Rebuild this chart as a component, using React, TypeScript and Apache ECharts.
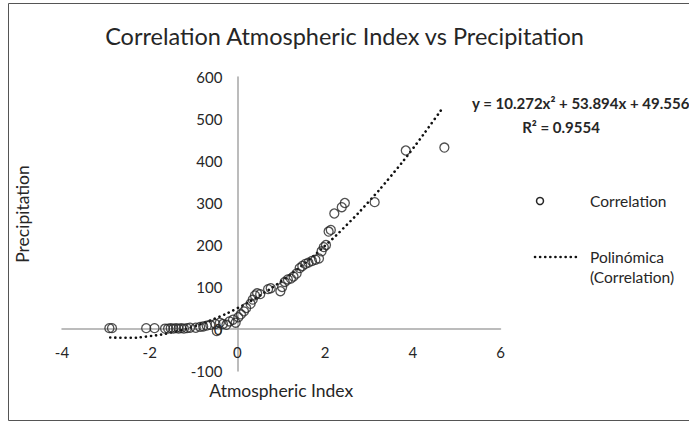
import React, { useEffect, useRef } from "react";
import * as echarts from "echarts";

const pointX = [-2.92, -2.86, -2.08, -1.89, -1.65, -1.58, -1.52, -1.46, -1.4, -1.34, -1.28, -1.22, -1.15, -1.08, -0.95, -0.85, -0.78, -0.7, -0.62, -0.5, -0.47, -0.4, -0.33, -0.25, -0.18, -0.1, -0.04, 0.02, 0.08, 0.15, 0.2, 0.3, 0.35, 0.4, 0.45, 0.52, 0.7, 0.76, 0.98, 1.02, 1.08, 1.15, 1.22, 1.28, 1.35, 1.42, 1.48, 1.55, 1.62, 1.7, 1.78, 1.86, 1.92, 1.97, 2.02, 2.08, 2.13, 2.21, 2.38, 2.45, 3.13, 3.84, 4.72];
const pointY = [2, 2, 2, 2, 1, 1, 2, 1, 2, 1, 2, 1, 2, 3, 3, 5, 6, 8, 10, 12, -5, 15, 12, 10, 18, 22, 15, 28, 35, 42, 50, 60, 70, 80, 85, 83, 95, 97, 90, 100, 112, 118, 120, 125, 132, 145, 150, 155, 158, 162, 165, 168, 185, 195, 200, 232, 236, 275, 290, 300, 302, 425, 432];

const trendX = [-2.9, -2.5, -2, -1.5, -1, -0.5, 0, 0.5, 1, 1.5, 2, 2.5, 3, 3.5, 4, 4.5, 4.65];
const trendY = [-20.3, -21, -17.1, -8.1, 6, 25.2, 49.6, 79.1, 113.7, 153.5, 198.5, 248.5, 303.7, 364, 429.5, 500.1, 522];

const xTicks = { min: -4, max: 6, interval: 2 };
const yTicks = { min: -100, max: 600, interval: 100 };

const titleText = "Correlation Atmospheric Index vs Precipitation";
const equationText = "y = 10.272x\u00b2 + 53.894x + 49.556";
const r2Text = "R\u00b2 = 0.9554";
const legendNames = ["Correlation", "Polinómica", "(Correlation)"];

const FONT = "Lato, 'Open Sans', sans-serif";
const GRID_LEFT = 62;
const GRID_RIGHT = 188.5;
const GRID_TOP = 77;
const GRID_BOTTOM = 52;
const GRID_WIDTH = 689 - GRID_LEFT - GRID_RIGHT;
const GRID_HEIGHT = 423 - GRID_TOP - GRID_BOTTOM;

export default function App() {
  const ref = useRef<HTMLDivElement>(null);
  useEffect(() => {
    if (!ref.current) return;
    const chart = echarts.init(ref.current, undefined, { renderer: "svg" });
    const scatter = pointX.map((x, i) => [x, pointY[i]]);
    const trend = trendX.map((x, i) => [x, trendY[i]]);
    // move the axes so that they cross at (0, 0)
    const yOffset = -((0 - xTicks.min) / (xTicks.max - xTicks.min)) * GRID_WIDTH;
    const xOffset = -((0 - yTicks.min) / (yTicks.max - yTicks.min)) * GRID_HEIGHT;
    chart.setOption({
      animation: false,
      backgroundColor: "#ffffff",
      textStyle: { fontFamily: FONT },
      title: {
        text: titleText,
        left: "center",
        top: 19,
        textStyle: { fontFamily: FONT, fontSize: 23.5, fontWeight: "normal", color: "#262626" },
      },
      grid: { left: GRID_LEFT, right: GRID_RIGHT, top: GRID_TOP, bottom: GRID_BOTTOM, containLabel: false, outerBoundsMode: "none" },
      xAxis: {
        type: "value",
        min: xTicks.min,
        max: xTicks.max,
        interval: xTicks.interval,
        position: "bottom",
        offset: xOffset,
        axisLine: { show: true, onZero: false, lineStyle: { color: "#a6a6a6", width: 1.5 } },
        axisTick: { show: false },
        splitLine: { show: false },
        axisLabel: { margin: 15, fontSize: 15, color: "#262626", fontFamily: FONT },
        name: "Atmospheric Index",
        nameLocation: "middle",
        nameGap: 52,
        nameTextStyle: { fontSize: 17.5, color: "#262626", fontFamily: FONT },
      },
      yAxis: {
        type: "value",
        min: yTicks.min,
        max: yTicks.max,
        interval: yTicks.interval,
        position: "left",
        offset: yOffset,
        axisLine: { show: true, onZero: false, lineStyle: { color: "#a6a6a6", width: 1.5 } },
        axisTick: { show: false },
        splitLine: { show: false },
        axisLabel: { margin: 15, fontSize: 15, color: "#262626", fontFamily: FONT },
      },
      series: [
        {
          name: "Correlation",
          type: "scatter",
          data: scatter,
          symbol: "circle",
          symbolSize: 9,
          itemStyle: { color: "rgba(255,255,255,0)", borderColor: "#262626", borderWidth: 1.3 },
          z: 3,
        },
        {
          name: "Polinómica (Correlation)",
          type: "line",
          data: trend,
          smooth: true,
          showSymbol: false,
          lineStyle: { color: "#111", width: 2.6, type: [0.1, 5], cap: "round" },
          z: 2,
        },
      ],
      graphic: [
        {
          type: "rect",
          shape: { x: 8.5, y: 3.5, width: 700, height: 417 },
          style: { fill: "none", stroke: "#555", lineWidth: 1 },
          silent: true,
        },
        {
          type: "text",
          x: 22,
          y: 214,
          rotation: Math.PI / 2,
          style: { text: "Precipitation", fontSize: 17.5, fontFamily: FONT, fill: "#262626", align: "center", verticalAlign: "middle" },
        },
        {
          type: "text",
          x: 472,
          y: 103,
          style: { text: equationText, fontSize: 15, fontFamily: FONT, fontWeight: "bold", fill: "#262626", align: "left", verticalAlign: "middle" },
        },
        {
          type: "text",
          x: 561,
          y: 127,
          style: { text: r2Text, fontSize: 15, fontFamily: FONT, fontWeight: "bold", fill: "#262626", align: "center", verticalAlign: "middle" },
        },
        {
          type: "circle",
          shape: { cx: 540, cy: 201, r: 3.5 },
          style: { fill: "none", stroke: "#262626", lineWidth: 1.5 },
        },
        {
          type: "text",
          x: 590,
          y: 201,
          style: { text: legendNames[0], fontSize: 15.5, fontFamily: FONT, fill: "#262626", align: "left", verticalAlign: "middle" },
        },
        {
          type: "line",
          shape: { x1: 535, y1: 257, x2: 578, y2: 257 },
          style: { stroke: "#111", lineWidth: 2.6, lineDash: [0.1, 5], lineCap: "round" },
        },
        {
          type: "text",
          x: 590,
          y: 257,
          style: { text: legendNames[1], fontSize: 15.5, fontFamily: FONT, fill: "#262626", align: "left", verticalAlign: "middle" },
        },
        {
          type: "text",
          x: 590,
          y: 277,
          style: { text: legendNames[2], fontSize: 15.5, fontFamily: FONT, fill: "#262626", align: "left", verticalAlign: "middle" },
        },
      ],
    });
    return () => chart.dispose();
  }, []);
  return (
    <div
      ref={ref}
      style={{ position: "absolute", left: 0, top: 0, width: 689, height: 423 }}
    />
  );
}
